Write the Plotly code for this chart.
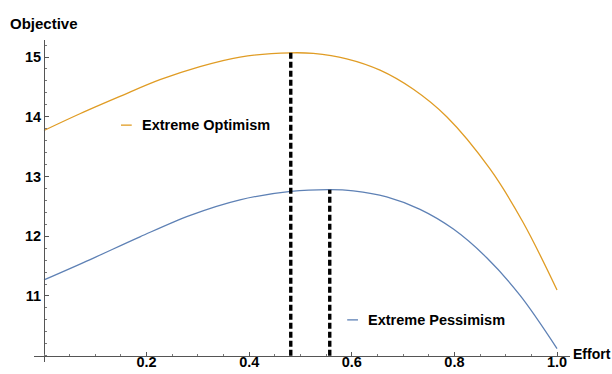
import plotly.graph_objects as go

# Objective as a function of effort, for the two belief extremes
effort_opt = [0.0, 0.07, 0.148, 0.226, 0.304, 0.382, 0.481, 0.525, 0.59, 0.655, 0.72, 0.785, 0.869, 0.934, 1.0]
objective_opt = [13.77, 14.05, 14.34, 14.62, 14.84, 15.0, 15.07, 15.06, 14.97, 14.78, 14.46, 14.0, 13.13, 12.23, 11.1]

effort_pes = [0.0, 0.09, 0.187, 0.285, 0.382, 0.481, 0.557, 0.603, 0.668, 0.733, 0.798, 0.863, 0.928, 1.0]
objective_pes = [11.27, 11.61, 11.99, 12.35, 12.61, 12.75, 12.78, 12.76, 12.66, 12.45, 12.12, 11.64, 11.01, 10.12]

# Optimal effort for each case (marked by dashed drop lines)
opt_effort = [0.481, 0.557]
opt_value = [15.07, 12.78]

x_ticks = [0.2, 0.4, 0.6, 0.8, 1.0]
x_tick_labels = ["0.2", "0.4", "0.6", "0.8", "1.0"]
y_ticks = [11, 12, 13, 14, 15]
y_base = 10.0

ORANGE = "#E09C24"
BLUE = "#5E81B5"
FONT = "Liberation Sans, Arial, sans-serif"

fig = go.Figure()

fig.add_trace(go.Scatter(x=effort_opt, y=objective_opt, mode="lines",
                         line=dict(color=ORANGE, width=1.3, shape="spline", smoothing=1.0),
                         showlegend=False, hoverinfo="skip"))
fig.add_trace(go.Scatter(x=effort_pes, y=objective_pes, mode="lines",
                         line=dict(color=BLUE, width=1.3, shape="spline", smoothing=1.0),
                         showlegend=False, hoverinfo="skip"))

for xe, ye in zip(opt_effort, opt_value):
    fig.add_trace(go.Scatter(x=[xe, xe], y=[y_base, ye], mode="lines",
                             line=dict(color="black", width=3.4, dash="6px,3px"),
                             showlegend=False, hoverinfo="skip"))

# Inline legend entries
legend_items = [
    ("Extreme Optimism", ORANGE, 0.150, 13.86),
    ("Extreme Pessimism", BLUE, 0.591, 10.60),
]
for text, color, x0, yv in legend_items:
    fig.add_shape(type="line", x0=x0, x1=x0 + 0.021, y0=yv, y1=yv, xref="x", yref="y",
                  line=dict(color=color, width=1.3))
    fig.add_annotation(x=x0 + 0.037, y=yv, xref="x", yref="y", text=text, showarrow=False,
                       xanchor="left", yanchor="middle",
                       font=dict(family=FONT, size=14.5, color="black", weight="bold"))

W, H = 612, 374
ml, mr, mt, mb = 34, 42, 40, 12
x_range = [-0.0195, 1.0253]
y_range = [9.895, 15.285]

tick_font = dict(family=FONT, size=14.5, color="black", weight="bold")

fig.update_layout(
    width=W, height=H,
    margin=dict(l=ml, r=mr, t=mt, b=mb),
    paper_bgcolor="white", plot_bgcolor="white",
    font=dict(family=FONT, size=14, color="black"),
    xaxis=dict(range=x_range, showgrid=False, zeroline=False, automargin=False,
               showline=True, linecolor="#555", linewidth=1,
               anchor="free", position=(y_base - y_range[0]) / (y_range[1] - y_range[0]),
               tickmode="array", tickvals=x_ticks, ticktext=x_tick_labels,
               ticks="inside", ticklen=4, tickcolor="#555", tickwidth=1,
               ticklabelstandoff=-7,
               minor=dict(dtick=0.05, tick0=0, ticks="inside", ticklen=2, tickcolor="#777"),
               tickfont=tick_font),
    yaxis=dict(range=y_range, showgrid=False, zeroline=False, automargin=False,
               showline=True, linecolor="#555", linewidth=1,
               anchor="free", position=(0 - x_range[0]) / (x_range[1] - x_range[0]),
               tickmode="array", tickvals=y_ticks,
               ticks="inside", ticklen=4, tickcolor="#555", tickwidth=1,
               minor=dict(dtick=0.2, tick0=0, ticks="inside", ticklen=2, tickcolor="#777"),
               tickfont=tick_font),
)

# Axis titles at the ends of the axes
fig.add_annotation(x=0, y=1.0, xref="x", yref="paper", yshift=17, text="Objective",
                   showarrow=False, xanchor="center", yanchor="middle",
                   font=dict(family=FONT, size=15, color="black", weight="bold"))
fig.add_annotation(x=1.0, y=y_base, xref="paper", yref="y", xshift=1, yshift=2, text="Effort",
                   showarrow=False, xanchor="left", yanchor="middle",
                   font=dict(family=FONT, size=14, color="black", weight="bold"))

fig.write_html("out.html")
